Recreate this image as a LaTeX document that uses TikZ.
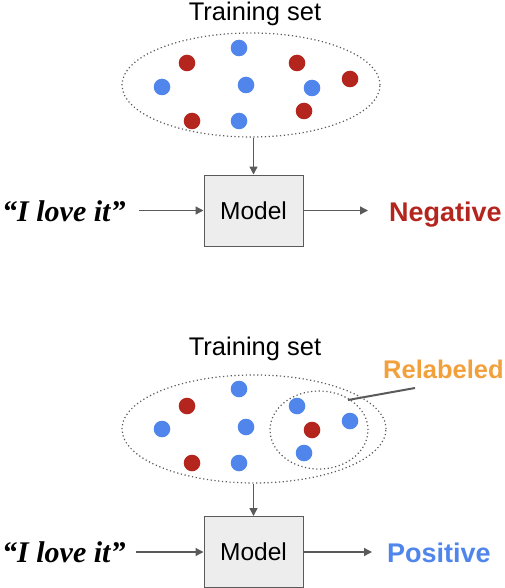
\documentclass[tikz,border=0pt]{standalone}
\usepackage{fontspec}
\setmainfont{Liberation Sans}
\newfontfamily\citafont{Liberation Serif}
\usepackage{xcolor}
\usepackage{tikz}
\usetikzlibrary{arrows.meta,shapes.geometric}
\definecolor{rojo}{RGB}{180,37,30}
\definecolor{azul}{RGB}{80,134,236}
\definecolor{naranja}{RGB}{242,160,60}
\definecolor{gris}{RGB}{90,90,90}
\tikzset{
  pics/dot/.default={azul},
  pics/dot/.style = {
    code = {
    \fill[#1] (0,0) circle (8.3pt);
    }
  },
  conjunto/.style={draw=gris, line width=1.2pt, dash pattern=on 1.2pt off 2.6pt, ellipse, inner sep=0pt},
  modelo/.style={draw=gris, fill=gray!14, line width=1pt, minimum width=99pt, minimum height=71pt, font=\fontsize{24.5}{28}\selectfont},
  flecha/.style={-{Triangle[length=8pt,width=8pt]}, draw=gris, line width=1.3pt},
  titulo/.style={anchor=base, font=\fontsize{25.5}{30}\selectfont},
  cita/.style={anchor=base west, inner sep=0pt, font=\citafont\bfseries\itshape\fontsize{30}{34}\selectfont},
  salida/.style={anchor=base west, inner sep=0pt, font=\bfseries\fontsize{27}{32}\selectfont}
}
\newcommand{\puntos}[1]{
  \foreach \x/\y/\c in {#1}{
       \pic at (\x,\y) {dot=\c};
     }}

\begin{document}
\begin{tikzpicture}[x=1pt,y=-1pt]
        \useasboundingbox (0,0) rectangle (504,588);
        % arriba
            \node[titulo] (tit1) at (255,21) {Training set};
            \node[conjunto, minimum width=258pt, minimum height=104pt] (set1) at (251,85) {};
            \puntos{239/48/azul, 187/63/rojo, 297/63/rojo, 350/79/rojo, 162/87/azul,
                    246/85/azul, 312/88/azul, 304/111/rojo, 192/121/rojo, 239/121/azul}
            \node[modelo] (model1) at (253.5,210.5) {Model};
            \node[cita] (input1) at (2,221) {“I love it”};
            \node[salida, text=rojo] (out1) at (389,221) {Negative};
            \draw[flecha] (set1.south -| model1) -- (model1.north);
            \draw[flecha, shorten <=13pt] (input1.east |- model1) -- (model1.west);
            \draw[flecha, shorten >=21pt] (model1.east) -- (out1.west |- model1);
        % abajo
            \node[titulo] (tit2) at (255,355) {Training set};
            \node[conjunto, minimum width=264pt, minimum height=108pt] (set2) at (254,429) {};
            \node[conjunto, minimum width=98pt, minimum height=78pt] (sub2) at (319,430) {};
            \puntos{239/389/azul, 187/406/rojo, 297/406/azul, 350/421/azul, 162/429/azul,
                    246/427/azul, 312/430/rojo, 304/453/azul, 192/463/rojo, 239/463/azul}
            \node[salida, text=naranja, font=\bfseries\fontsize{25.5}{30}\selectfont] (relab) at (383,378) {Relabeled};
            \coordinate (tag) at (415,388);
            \coordinate (tagend) at (348,400);
            \draw[gris, line width=2pt] (tag) -- (tagend);
            \node[modelo] (model2) at (253.5,552) {Model};
            \node[cita] (input2) at (2,562) {“I love it”};
            \node[salida, text=azul] (out2) at (387,562) {Positive};
            \draw[flecha] (set2.south -| model2) -- (model2.north);
            \draw[flecha, shorten <=10pt] (input2.east |- model2) -- (model2.west);
            \draw[flecha, shorten >=15pt] (model2.east) -- (out2.west |- model2);
        \end{tikzpicture}
\end{document}
